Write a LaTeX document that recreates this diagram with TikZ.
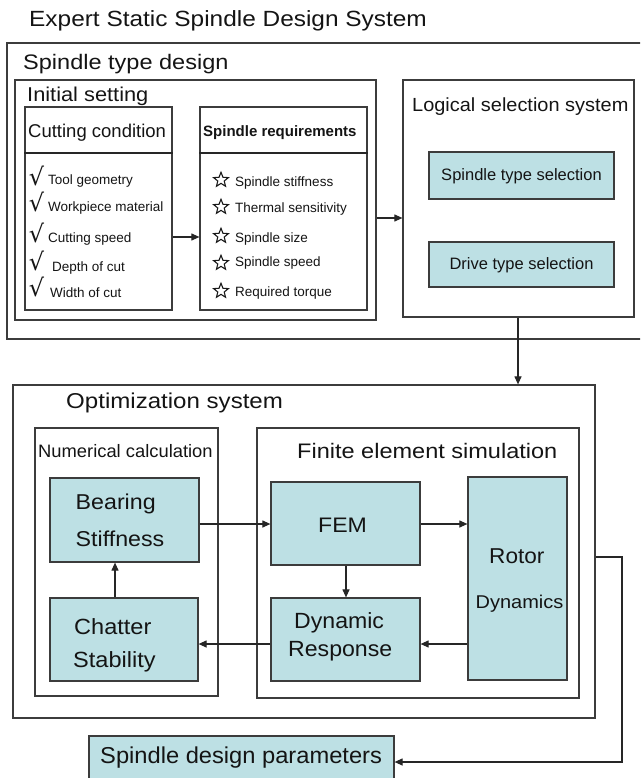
\documentclass[tikz,border=0pt]{standalone}
\usepackage{fontspec}
\usepackage{graphicx}
\setmainfont{Liberation Sans}
\newfontfamily\symfont{DejaVu Sans}
\usetikzlibrary{arrows.meta,shapes.geometric}

\definecolor{boxline}{RGB}{60,60,60}
\definecolor{tealfill}{RGB}{189,224,228}

\tikzset{
  frame/.style={draw=boxline, line width=1.2pt, rectangle, inner sep=0pt},
  tealbox/.style={frame, fill=tealfill},
  lbl/.style={inner sep=0pt, anchor=base west, text=black!92},
  sym/.style={inner sep=0pt, text=black!92},
  starmark/.style={star, star points=5, star point ratio=2.3, draw=black!90,
    line width=1.1pt, minimum size=15.5pt, inner sep=0pt},
  flow/.style={draw=black!85, line width=1.1pt},
  link/.style={flow, -{Triangle[length=8pt,width=7pt]}},
}

% box given by its corners: style, name, x1, y1, x2, y2
\newcommand\mybox[6]{%
  \pgfmathsetmacro\bxcx{(#3+#5)/2}\pgfmathsetmacro\bxcy{(#4+#6)/2}%
  \pgfmathsetmacro\bxw{#5-#3}\pgfmathsetmacro\bxh{#6-#4}%
  \node[#1, minimum width=\bxw pt, minimum height=\bxh pt] (#2) at (\bxcx,\bxcy) {};}

% text on a baseline: name, position, size, horizontal stretch, text
\newcommand\txt[5]{%
  \node[lbl] (#1) at (#2) {\fontsize{#3}{#3}\selectfont\scalebox{#4}[1]{#5}};}

\begin{document}
\begin{tikzpicture}[x=1pt,y=-1pt]
\useasboundingbox (0,0) rectangle (640,778);
\clip (0,0) rectangle (640,778);

% ---- frames ----
\mybox{frame}{std}{7}{43}{652}{339}
\mybox{frame}{init}{15}{80}{376}{320}
\mybox{frame}{cut}{25}{107}{172}{310}
\mybox{frame}{req}{200}{107}{367}{310}
\mybox{frame}{logic}{403}{80}{634}{317}
\mybox{tealbox}{stsel}{429}{152}{614}{199}
\mybox{tealbox}{drsel}{429}{242}{614}{287}

\mybox{frame}{opt}{13}{385}{595}{718}
\mybox{frame}{num}{35}{428}{218}{696}
\mybox{frame}{fes}{257}{428}{579}{698}
\mybox{tealbox}{bear}{50}{478}{199}{562}
\mybox{tealbox}{chat}{50}{598}{198}{681}
\mybox{tealbox}{fem}{271}{482}{420}{565}
\mybox{tealbox}{dyn}{271}{598}{420}{681}
\mybox{tealbox}{rot}{468}{477}{567}{680}
\mybox{tealbox}{sdp}{89}{736}{394}{800}

% table headers
\draw[flow] (cut.west |- 0,153) -- (cut.east |- 0,153);
\draw[flow] (req.west |- 0,153) -- (req.east |- 0,153);

% ---- titles ----
\txt{tTitle}{29,27}{22}{1.11}{Expert Static Spindle Design System}
\txt{tStd}{23,70}{21}{1.12}{Spindle type design}
\txt{tInit}{27,102}{20}{1.09}{Initial setting}
\txt{tLogic}{412,112}{19}{1.05}{Logical selection system}
\txt{tCut}{28,138}{18.5}{1.0}{Cutting condition}
\node[lbl] (tReq) at (203,137) {\fontsize{15}{15}\selectfont\bfseries Spindle requirements};

% cutting condition items
\foreach \n/\yb/\xt/\yc/\lab in {1/185/48/176/Tool geometry, 2/211/48/202/Workpiece material,
    3/242/48/233/Cutting speed, 4/271/52/261/Depth of cut, 5/297/50/287/Width of cut}{
  \node[sym] (chk\n) at (36.5,\yc) {\symfont\fontsize{24}{24}\selectfont √};
  \node[lbl] (cutitem\n) at (\xt,\yb) {\fontsize{13.5}{13.5}\selectfont \lab};
}
% spindle requirement items
\foreach \n/\yb/\yc/\lab in {1/186/180/Spindle stiffness, 2/212/207/Thermal sensitivity,
    3/242/236/Spindle size, 4/266/263/Spindle speed, 5/296/291/Required torque}{
  \node[starmark] (star\n) at (221,\yc) {};
  \node[lbl] (reqitem\n) at (235,\yb) {\fontsize{13.5}{13.5}\selectfont \lab};
}

\node[sym] (tSt) at ([yshift=-1pt]stsel.center) {\fontsize{16.5}{16.5}\selectfont Spindle type selection};
\node[sym] (tDr) at ([yshift=-1pt]drsel.center) {\fontsize{16.5}{16.5}\selectfont Drive type selection};

\txt{tOpt}{66,408}{21.5}{1.12}{Optimization system}
\txt{tNum}{38,457}{18}{1.02}{Numerical calculation}
\txt{tFes}{297,458}{21}{1.12}{Finite element simulation}
\txt{tFem}{318,532}{21}{1.1}{FEM}
\txt{tBear1}{75.5,509}{21.5}{1.08}{Bearing}
\txt{tBear2}{75.5,546}{21.5}{1.08}{Stiffness}
\txt{tRot1}{489,563}{21.5}{1.05}{Rotor}
\txt{tRot2}{475.5,608}{18.5}{1.08}{Dynamics}
\txt{tChat1}{74,634}{22}{1.07}{Chatter}
\txt{tChat2}{73,667}{22}{1.07}{Stability}
\txt{tDyn1}{294,628}{22}{1.05}{Dynamic}
\txt{tDyn2}{288,656}{22}{1.05}{Response}
\txt{tSdp}{100,763}{23}{1.03}{Spindle design parameters}

% ---- connectors ----
\draw[link] (cut.east |- 0,237) -- (req.west |- 0,237);
\draw[link] (init.east |- 0,218) -- (logic.west |- 0,218);
\draw[link] (518,0 |- logic.south) -- (518,0 |- opt.north);
\draw[link] (bear.east |- 0,524) -- (fem.west |- 0,524);
\draw[link] (fem.east |- 0,524) -- (rot.west |- 0,524);
\draw[link] (346,0 |- fem.south) -- (346,0 |- dyn.north);
\draw[link] (rot.west |- 0,644) -- (dyn.east |- 0,644);
\draw[link] (dyn.west |- 0,644) -- (chat.east |- 0,644);
\draw[link] (115,0 |- chat.north) -- (115,0 |- bear.south);
\coordinate (turn) at (622,762);
\draw[link] (opt.east |- 0,557) -| (turn) -- (sdp.east |- turn);

\end{tikzpicture}
\end{document}
